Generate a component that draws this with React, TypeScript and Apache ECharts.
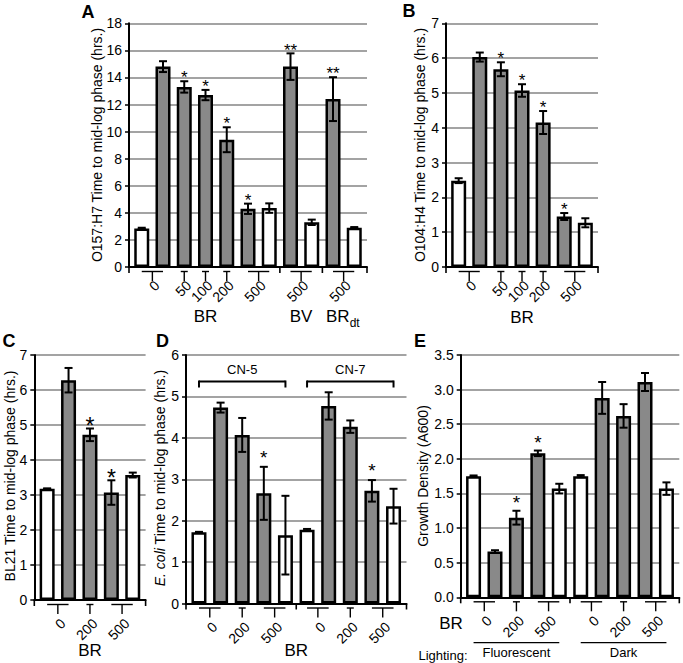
import React, { useEffect, useRef } from 'react';
import * as echarts from 'echarts';

const FONT = '"Liberation Sans", Arial, Helvetica, sans-serif';
const WHITE = '#ffffff';
const GRAY = '#898989';

// ---------- Panel A: O157:H7 ----------
const aValues = [2.85, 14.8, 13.3, 12.7, 9.4, 4.3, 4.35, 14.8, 3.3, 12.4, 2.9];
const aErrors = [0.05, 0.4, 0.42, 0.38, 0.92, 0.38, 0.35, 0.98, 0.2, 1.62, 0.05];
const aTreated = [0, 1, 1, 1, 1, 1, 0, 1, 0, 1, 0];
const aStars = ['', '', '*', '*', '*', '*', '', '**', '', '**', ''];
const aDoseLabels = ['0', '50', '100', '200', '500', '500', '500'];
const aDoseSpans = [[0, 1], [2, 2], [3, 3], [4, 4], [5, 6], [7, 8], [9, 10]];
const aSeparators = [6.5, 8.5];
const aCompounds = ['BR', 'BV', 'BR'];
const aCompoundSubs = ['', '', 'dt'];
const aCompoundSpans = [[0, 6], [7, 8], [9, 10]];

// ---------- Panel B: O104:H4 ----------
const bValues = [2.48, 6.03, 5.68, 5.07, 4.15, 1.45, 1.27];
const bErrors = [0.07, 0.13, 0.2, 0.18, 0.33, 0.1, 0.13];
const bTreated = [0, 1, 1, 1, 1, 1, 0];
const bStars = ['', '', '*', '*', '*', '*', ''];
const bDoseLabels = ['0', '50', '100', '200', '500'];
const bDoseSpans = [[0, 1], [2, 2], [3, 3], [4, 4], [5, 6]];
const bCompounds = ['BR'];
const bCompoundSpans = [[0, 6]];

// ---------- Panel C: BL21 ----------
const cValues = [3.18, 6.28, 4.72, 3.07, 3.57];
const cErrors = [0.01, 0.35, 0.18, 0.35, 0.07];
const cTreated = [0, 1, 1, 1, 0];
const cStars = ['', '', '*', '*', ''];
const cDoseLabels = ['0', '200', '500'];
const cDoseSpans = [[0, 1], [2, 2], [3, 4]];
const cCompounds = ['BR'];
const cCompoundSpans = [[0, 4]];

// ---------- Panel D: E. coli CN-5 / CN-7 ----------
const dValues = [1.72, 4.73, 4.07, 2.66, 1.65, 1.78, 4.77, 4.27, 2.72, 2.35];
const dErrors = [0.01, 0.12, 0.41, 0.64, 0.95, 0.02, 0.33, 0.15, 0.26, 0.42];
const dTreated = [0, 1, 1, 1, 0, 0, 1, 1, 1, 0];
const dStars = ['', '', '', '*', '', '', '', '', '*', ''];
const dDoseLabels = ['0', '200', '500', '0', '200', '500'];
const dDoseSpans = [[0, 1], [2, 2], [3, 4], [5, 6], [7, 7], [8, 9]];
const dSeparators = [4.5];
const dCompounds = ['BR'];
const dCompoundSpans = [[0, 9]];
const dStrains = ['CN-5', 'CN-7'];
const dStrainSpans = [[0, 4], [5, 9]];

// ---------- Panel E: growth density ----------
const eValues = [1.75, 0.66, 1.15, 2.08, 1.57, 1.75, 2.88, 2.62, 3.11, 1.57];
const eErrors = [0.01, 0.02, 0.1, 0.04, 0.07, 0.015, 0.23, 0.17, 0.13, 0.09];
const eTreated = [0, 1, 1, 1, 0, 0, 1, 1, 1, 0];
const eStars = ['', '', '*', '*', '', '', '', '', '', ''];
const eDoseLabels = ['0', '200', '500', '0', '200', '500'];
const eDoseSpans = [[0, 1], [2, 2], [3, 4], [5, 6], [7, 7], [8, 9]];
const eSeparators = [4.5];
const eLighting = ['Fluorescent', 'Dark'];
const eLightingSpans = [[0, 4], [5, 9]];

type Panel = {
  grid: { left: number; top: number; width: number; height: number };
  max: number;
  interval: number;
  decimals: number;
  values: number[];
  errors: number[];
  treated: number[];
  stars: string[];
  doseLabels: string[];
  doseSpans: number[][];
  separators: number[];
  starSize: number;
  starGap: number;
  labelDx: number;
  labelDy: number;
  compounds?: string[];
  compoundSubs?: string[];
  compoundSpans?: number[][];
  compoundDy?: number;
  brackets?: { labels: string[]; spans: number[][]; value: number };
  underGroups?: { labels: string[]; spans: number[][]; lineDy: number; textDy: number };
};

const panels: Panel[] = [
  {
    grid: { left: 129, top: 23.3, width: 238, height: 243.7 },
    max: 18, interval: 2, decimals: 0,
    values: aValues, errors: aErrors, treated: aTreated, stars: aStars,
    doseLabels: aDoseLabels, doseSpans: aDoseSpans, separators: aSeparators,
    starSize: 17, starGap: 5, labelDx: 4.5, labelDy: 16,
    compounds: aCompounds, compoundSubs: aCompoundSubs, compoundSpans: aCompoundSpans, compoundDy: 49,
  },
  {
    grid: { left: 446, top: 23.3, width: 152, height: 243.7 },
    max: 7, interval: 1, decimals: 0,
    values: bValues, errors: bErrors, treated: bTreated, stars: bStars,
    doseLabels: bDoseLabels, doseSpans: bDoseSpans, separators: [],
    starSize: 17, starGap: 5, labelDx: 4.5, labelDy: 16,
    compounds: bCompounds, compoundSpans: bCompoundSpans, compoundDy: 50,
  },
  {
    grid: { left: 34.3, top: 355, width: 111.3, height: 245 },
    max: 7, interval: 1, decimals: 0,
    values: cValues, errors: cErrors, treated: cTreated, stars: cStars,
    doseLabels: cDoseLabels, doseSpans: cDoseSpans, separators: [],
    starSize: 23, starGap: 4.5, labelDx: 5, labelDy: 21,
    compounds: cCompounds, compoundSpans: cCompoundSpans, compoundDy: 50.5,
  },
  {
    grid: { left: 186, top: 355, width: 220.5, height: 248.5 },
    max: 6, interval: 1, decimals: 0,
    values: dValues, errors: dErrors, treated: dTreated, stars: dStars,
    doseLabels: dDoseLabels, doseSpans: dDoseSpans, separators: dSeparators,
    starSize: 19, starGap: 11, labelDx: 5, labelDy: 21,
    compounds: dCompounds, compoundSpans: dCompoundSpans, compoundDy: 46.5,
    brackets: { labels: dStrains, spans: dStrainSpans, value: 5.36 },
  },
  {
    grid: { left: 460.7, top: 355, width: 218.6, height: 242.3 },
    max: 3.5, interval: 0.5, decimals: 1,
    values: eValues, errors: eErrors, treated: eTreated, stars: eStars,
    doseLabels: eDoseLabels, doseSpans: eDoseSpans, separators: eSeparators,
    starSize: 19, starGap: 10, labelDx: 5, labelDy: 21,
    underGroups: { labels: eLighting, spans: eLightingSpans, lineDy: 45.4, textDy: 55.4 },
  },
];

const LINE = (x1: number, y1: number, x2: number, y2: number, w: number) => ({
  type: 'line',
  shape: { x1, y1, x2, y2 },
  style: { stroke: '#000', lineWidth: w },
});

function buildOption() {
  const grids: any[] = [];
  const xAxes: any[] = [];
  const yAxes: any[] = [];
  const series: any[] = [];

  panels.forEach((p, idx) => {
    const n = p.values.length;
    grids.push({ ...p.grid });
    xAxes.push({
      type: 'value', gridIndex: idx, min: -0.6, max: n - 0.4,
      axisLine: { show: true, onZero: false, lineStyle: { color: '#000', width: 2 } },
      axisTick: { show: false }, axisLabel: { show: false }, splitLine: { show: false },
    });
    yAxes.push({
      type: 'value', gridIndex: idx, min: 0, max: p.max, interval: p.interval,
      axisLine: { show: true, onZero: false, lineStyle: { color: '#000', width: 2 } },
      axisTick: { show: true, length: 4, lineStyle: { color: '#000', width: 1.5 } },
      axisLabel: {
        fontSize: 14, color: '#000', margin: 7, fontFamily: FONT,
        formatter: (v: number) => v.toFixed(p.decimals),
      },
      splitLine: { show: true, lineStyle: { color: '#a3a3a3', width: 2 } },
    });
    const ax = { xAxisIndex: idx, yAxisIndex: idx };

    series.push({
      type: 'bar', ...ax, barWidth: 15, silent: true,
      itemStyle: { borderColor: '#000', borderWidth: 2.5 },
      data: p.values.map((v, j) => ({ value: [j, v], itemStyle: { color: p.treated[j] ? GRAY : WHITE } })),
      z: 2,
    });

    // error bars
    series.push({
      type: 'custom', ...ax, silent: true, z: 4,
      encode: { x: 0, y: [1, 2] },
      data: p.values.map((v, j) => [j, v - p.errors[j], v + p.errors[j]]),
      renderItem: (params: any, api: any) => {
        const lo = api.coord([api.value(0), api.value(1)]);
        const hi = api.coord([api.value(0), api.value(2)]);
        const c = 4;
        return {
          type: 'group',
          children: [
            LINE(lo[0], lo[1], hi[0], hi[1], 2),
            LINE(lo[0] - c, lo[1], lo[0] + c, lo[1], 2),
            LINE(hi[0] - c, hi[1], hi[0] + c, hi[1], 2),
          ],
        };
      },
    });

    // significance stars
    series.push({
      type: 'custom', ...ax, silent: true, z: 5,
      encode: { x: 0, y: 1 },
      data: p.values.map((v, j) => [j, v + p.errors[j]]),
      renderItem: (params: any, api: any) => {
        const s = p.stars[params.dataIndex];
        if (!s) return { type: 'group', children: [] };
        const pt = api.coord([api.value(0), api.value(1)]);
        return {
          type: 'text', x: pt[0], y: pt[1] - p.starGap + 0.1 * p.starSize,
          style: {
            text: s, fontSize: p.starSize, fontFamily: FONT, fill: '#000',
            align: 'center', verticalAlign: 'middle',
          },
        };
      },
    });

    // dose tick marks and rotated labels
    series.push({
      type: 'custom', ...ax, silent: true, z: 5,
      encode: { x: [0, 1], y: 2 },
      data: p.doseSpans.map((s) => [s[0], s[1], 0]),
      renderItem: (params: any, api: any) => {
        const a = api.coord([api.value(0), 0]);
        const b = api.coord([api.value(1), 0]);
        const y0 = a[1];
        let x1 = a[0];
        let x2 = b[0];
        if (x2 - x1 < 1) { x1 -= 3.5; x2 += 3.5; }
        const mid = (x1 + x2) / 2;
        const yh = y0 + 4.5;
        return {
          type: 'group',
          children: [
            LINE(x1, yh, x2, yh, 1.4),
            LINE(mid, yh, mid, y0 + 14, 1.4),
            {
              type: 'text', x: mid + p.labelDx, y: y0 + p.labelDy, rotation: Math.PI / 4,
              style: {
                text: p.doseLabels[params.dataIndex], fontSize: 14, fontFamily: FONT, fill: '#000',
                align: 'right', verticalAlign: 'middle',
              },
            },
          ],
        };
      },
    });

    // axis boundary ticks and group separators
    series.push({
      type: 'custom', ...ax, silent: true, z: 5,
      encode: { x: 0, y: 1 },
      data: [[-0.6, 0], ...p.separators.map((s) => [s, 0]), [n - 0.4, 0]],
      renderItem: (params: any, api: any) => {
        const pt = api.coord([api.value(0), 0]);
        return LINE(pt[0], pt[1], pt[0], pt[1] + 6, 1.6);
      },
    });

    // compound labels (BR, BV, BRdt)
    if (p.compounds && p.compoundSpans) {
      const comps = p.compounds;
      const subs = p.compoundSubs || [];
      series.push({
        type: 'custom', ...ax, silent: true, z: 5,
        encode: { x: [0, 1], y: 2 },
        data: p.compoundSpans.map((s) => [s[0], s[1], 0]),
        renderItem: (params: any, api: any) => {
          const a = api.coord([api.value(0), 0]);
          const b = api.coord([api.value(1), 0]);
          const mid = (a[0] + b[0]) / 2;
          const y = a[1] + (p.compoundDy || 49);
          const i = params.dataIndex;
          const base = { fontSize: 17, fontFamily: FONT, fill: '#000', verticalAlign: 'middle' };
          if (subs[i]) {
            return {
              type: 'group',
              children: [
                { type: 'text', x: mid + 6, y, style: { ...base, text: comps[i], align: 'right' } },
                { type: 'text', x: mid + 6, y: y + 6.5, style: { ...base, fontSize: 12, text: subs[i], align: 'left' } },
              ],
            };
          }
          return { type: 'text', x: mid, y, style: { ...base, text: comps[i], align: 'center' } };
        },
      });
    }

    // strain brackets above bars (panel D)
    if (p.brackets) {
      const br = p.brackets;
      series.push({
        type: 'custom', ...ax, silent: true, z: 5,
        encode: { x: [0, 1], y: 2 },
        data: br.spans.map((s) => [s[0], s[1], br.value]),
        renderItem: (params: any, api: any) => {
          const a = api.coord([api.value(0), api.value(2)]);
          const b = api.coord([api.value(1), api.value(2)]);
          const y = a[1];
          return {
            type: 'group',
            children: [
              LINE(a[0], y, b[0], y, 2),
              LINE(a[0], y - 1, a[0], y + 6, 2),
              LINE(b[0], y - 1, b[0], y + 6, 2),
              {
                type: 'text', x: (a[0] + b[0]) / 2, y: y - 12.5,
                style: {
                  text: br.labels[params.dataIndex], fontSize: 13, fontFamily: FONT, fill: '#000',
                  align: 'center', verticalAlign: 'middle',
                },
              },
            ],
          };
        },
      });
    }

    // lighting groups below axis (panel E)
    if (p.underGroups) {
      const ug = p.underGroups;
      series.push({
        type: 'custom', ...ax, silent: true, z: 5,
        encode: { x: [0, 1], y: 2 },
        data: ug.spans.map((s) => [s[0], s[1], 0]),
        renderItem: (params: any, api: any) => {
          const a = api.coord([api.value(0), 0]);
          const b = api.coord([api.value(1), 0]);
          const y0 = a[1];
          return {
            type: 'group',
            children: [
              LINE(a[0], y0 + ug.lineDy, b[0], y0 + ug.lineDy, 1.2),
              {
                type: 'text', x: (a[0] + b[0]) / 2, y: y0 + ug.textDy,
                style: {
                  text: ug.labels[params.dataIndex], fontSize: 13, fontFamily: FONT, fill: '#000',
                  align: 'center', verticalAlign: 'middle',
                },
              },
            ],
          };
        },
      });
    }
  });

  const letter = (text: string, x: number, y: number) => ({
    type: 'text', x, y,
    style: { text, fontSize: 18, fontWeight: 'bold', fontFamily: FONT, fill: '#000', align: 'center', verticalAlign: 'middle' },
  });
  const vtitle = (text: string, x: number, y: number, rich?: any) => ({
    type: 'text', x, y, rotation: Math.PI / 2,
    style: { text, fontSize: 14, fontFamily: FONT, fill: '#000', align: 'center', verticalAlign: 'middle', rich },
  });

  const graphic = [
    letter('A', 88, 12),
    letter('B', 409, 11),
    letter('C', 9, 341),
    letter('D', 162.5, 341),
    letter('E', 420, 341),
    vtitle('O157:H7 Time to mid-log phase (hrs.)', 97, 145),
    vtitle('O104:H4 Time to mid-log phase (hrs.)', 420, 145),
    vtitle('BL21 Time to mid-log phase (hrs.)', 10, 476),
    vtitle('{i|E. coli} Time to mid-log phase (hrs.)', 160, 478, {
      i: { fontStyle: 'italic', fontSize: 14, fontFamily: FONT, fill: '#000' },
    }),
    vtitle('Growth Density (A600)', 423, 476),
    {
      type: 'text', x: 451, y: 623,
      style: { text: 'BR', fontSize: 17, fontFamily: FONT, fill: '#000', align: 'center', verticalAlign: 'middle' },
    },
    {
      type: 'text', x: 443, y: 655,
      style: { text: 'Lighting:', fontSize: 13, fontFamily: FONT, fill: '#000', align: 'center', verticalAlign: 'middle' },
    },
  ];

  return {
    animation: false,
    backgroundColor: '#ffffff',
    textStyle: { fontFamily: FONT },
    grid: grids,
    xAxis: xAxes,
    yAxis: yAxes,
    series,
    graphic,
  };
}

export default function App() {
  const ref = useRef<HTMLDivElement>(null);
  useEffect(() => {
    if (!ref.current) return;
    const chart = echarts.init(ref.current, undefined, { renderer: 'svg' });
    chart.setOption(buildOption() as any);
    return () => chart.dispose();
  }, []);
  return (
    <div
      ref={ref}
      style={{ position: 'absolute', left: 0, top: 0, width: 683, height: 663, background: '#fff' }}
    />
  );
}
